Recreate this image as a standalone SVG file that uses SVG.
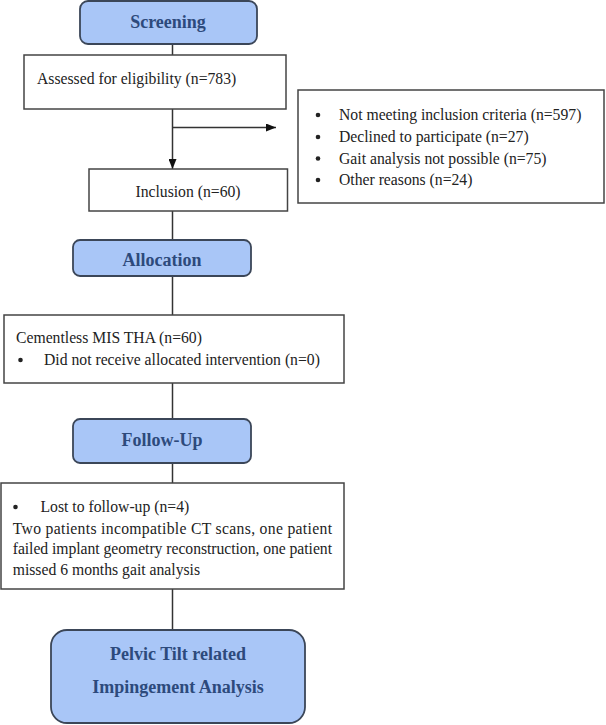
<svg xmlns="http://www.w3.org/2000/svg" width="606" height="725" viewBox="0 0 606 725">
<style>
.hdr{fill:#a9c6f7;stroke:#3b4658;stroke-width:1.8}
.box{fill:#fff;stroke:#444;stroke-width:1.5}
.ht{font-family:"Liberation Serif","Times New Roman",serif;font-weight:bold;font-size:18px;fill:#2d4a7c;text-anchor:middle}
.bt{font-family:"Liberation Serif","Times New Roman",serif;font-size:15.7px;fill:#222}
.dot{fill:#222}
.ln{stroke:#333;stroke-width:1.5;fill:none}
</style>
<defs>
<marker id="ah" markerWidth="10" markerHeight="8" refX="10" refY="4" orient="auto" markerUnits="userSpaceOnUse">
<path d="M0,0 L10,4 L0,8 Z" fill="#111"/>
</marker>
</defs>
<rect width="606" height="725" fill="#fff"/>
<g id="connectors">
<line class="ln" x1="172.5" y1="44" x2="172.5" y2="55"/>
<line class="ln" x1="172.5" y1="109" x2="172.5" y2="169" marker-end="url(#ah)"/>
<line class="ln" x1="172.5" y1="127.5" x2="276" y2="127.5" marker-end="url(#ah)"/>
<line class="ln" x1="172.5" y1="211" x2="172.5" y2="240"/>
<line class="ln" x1="172.5" y1="276" x2="172.5" y2="315"/>
<line class="ln" x1="172.5" y1="383" x2="172.5" y2="419"/>
<line class="ln" x1="172.5" y1="463" x2="172.5" y2="483"/>
<line class="ln" x1="172.5" y1="589" x2="172.5" y2="630"/>
</g>
<g id="screening">
<rect class="hdr" x="80" y="1" width="177" height="43" rx="8"/>
<text class="ht" x="168" y="28">Screening</text>
</g>
<g id="assessed">
<rect class="box" x="24" y="55" width="262" height="54"/>
<text class="bt" x="37" y="84">Assessed for eligibility (n=783)</text>
</g>
<g id="excluded">
<rect class="box" x="298" y="90" width="306" height="113"/>
<circle class="dot" cx="318" cy="115" r="2.3"/>
<text class="bt" x="339" y="120">Not meeting inclusion criteria (n=597)</text>
<circle class="dot" cx="318" cy="137" r="2.3"/>
<text class="bt" x="339" y="142">Declined to participate (n=27)</text>
<circle class="dot" cx="318" cy="158.5" r="2.3"/>
<text class="bt" x="339" y="163.5">Gait analysis not possible (n=75)</text>
<circle class="dot" cx="318" cy="180" r="2.3"/>
<text class="bt" x="339" y="185">Other reasons (n=24)</text>
</g>
<g id="inclusion">
<rect class="box" x="89" y="169" width="198.5" height="42"/>
<text class="bt" x="188" y="197" text-anchor="middle">Inclusion (n=60)</text>
</g>
<g id="allocation">
<rect class="hdr" x="73" y="240" width="178" height="36" rx="7"/>
<text class="ht" x="162" y="266">Allocation</text>
</g>
<g id="cementless">
<rect class="box" x="4" y="315" width="340" height="68"/>
<text class="bt" x="16" y="343">Cementless MIS THA (n=60)</text>
<circle class="dot" cx="20.5" cy="360" r="2.3"/>
<text class="bt" x="44" y="365">Did not receive allocated intervention (n=0)</text>
</g>
<g id="followup">
<rect class="hdr" x="73" y="419" width="178" height="44" rx="7"/>
<text class="ht" x="162" y="446">Follow-Up</text>
</g>
<g id="lost">
<rect class="box" x="1" y="483" width="343" height="106"/>
<circle class="dot" cx="15.5" cy="507" r="2.3"/>
<text class="bt" x="40.5" y="512">Lost to follow-up (n=4)</text>
<text class="bt" x="12.7" y="533.5" textLength="319.3" lengthAdjust="spacing">Two patients incompatible CT scans, one patient</text>
<text class="bt" x="12.7" y="554" textLength="319.3" lengthAdjust="spacing">failed implant geometry reconstruction, one patient</text>
<text class="bt" x="12.7" y="574.5">missed 6 months gait analysis</text>
</g>
<g id="analysis">
<rect class="hdr" x="51" y="630" width="254" height="93" rx="16"/>
<text class="ht" x="178" y="660">Pelvic Tilt related</text>
<text class="ht" x="178" y="693">Impingement Analysis</text>
</g>
</svg>
